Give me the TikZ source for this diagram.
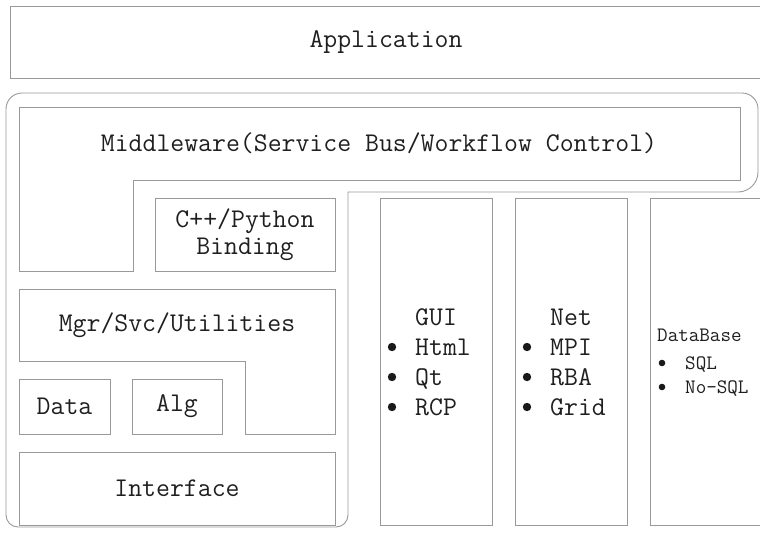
\documentclass[tikz,border=0pt]{standalone}
\usetikzlibrary{positioning}

\newcommand{\bigtt}{\ttfamily\fontsize{27}{27}\selectfont}
\newcommand{\smalltt}{\ttfamily\fontsize{20.5}{24}\selectfont}

\begin{document}
\begin{tikzpicture}[
x=1pt, y=-1pt,
frame/.style={draw=black!40, line width=0.9pt},
box/.style={frame, inner sep=0pt, align=center, text=black!88, font=\bigtt},
label/.style={inner sep=0pt, text=black!88, font=\bigtt, anchor=base west},
small/.style={label, font=\smalltt},
dot/.style={fill=black!90}
]
\useasboundingbox (0,0) rectangle (760,533);

% --- Application layer ---
\node[box, minimum width=752, minimum height=72] (app) at (386,42) {Application};

% --- Outer frame ---
\draw[frame] (6,300) [rounded corners=16] |- (400,93) -| (758,150)
  [rounded corners=20] |- (550,192) [sharp corners] -| (348,360)
  [rounded corners=12] |- (150,527) -| (6,300) -- cycle;

% --- Middleware ---
\draw[frame] (19,107) -| (740,180) -| (133,271) -| (19,107) -- cycle;
\node[inner sep=0pt, text=black!88, font=\bigtt] (mw) at (379,143.5) {Middleware(Service Bus/Workflow Control)};
\node[box, minimum width=180, minimum height=73] (binding) at (245,234.5) {C++/Python\\Binding};

% --- Managers and core ---
\draw[frame] (19,289) -| (335,434) -| (245,361) -| (19,289) -- cycle;
\node[inner sep=0pt, text=black!88, font=\bigtt] (mgr) at (177,325) {Mgr/Svc/Utilities};
\node[box, minimum width=91, minimum height=55] (data) at (64.5,406.5) {Data};
\node[box, minimum width=90, minimum height=55] (alg) at (177,406.5) {Alg};
\node[box, minimum width=316, minimum height=73] (iface) at (177,488.5) {Interface};

% --- Side columns ---
\node[frame, minimum width=112, minimum height=327] (guibox) at (436,361.5) {};
\node[frame, minimum width=112, minimum height=327] (netbox) at (571,361.5) {};
\node[frame, minimum width=120, minimum height=327] (dbbox) at (710,361.5) {};

\node[label] (gui) at (415,325) {GUI};
\foreach \t [count=\i] in {Html,Qt,RCP} {
  \node[label] (gui-\i) at (415,325+30*\i) {\t};
  \fill[dot] (392,317+30*\i) circle (4.2);
}

\node[label] (net) at (550,325) {Net};
\foreach \t [count=\i] in {MPI,RBA,Grid} {
  \node[label] (net-\i) at (550,325+30*\i) {\t};
  \fill[dot] (527,317+30*\i) circle (4.2);
}

\node[small] (db) at (657,341) {DataBase};
\node[small] (db-1) at (685,369) {SQL};
\node[small] (db-2) at (685,393) {No-SQL};
\fill[dot] (662,363) circle (3.3);
\fill[dot] (662,387) circle (3.3);

\end{tikzpicture}
\end{document}
